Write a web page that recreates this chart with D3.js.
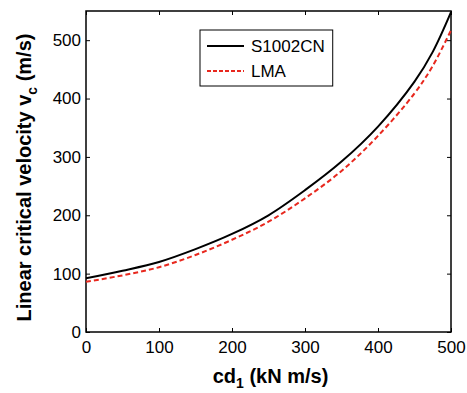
<!DOCTYPE html>
<html>
<head>
<meta charset="utf-8">
<script src="https://cdn.jsdelivr.net/npm/d3@7"></script>
<style>
  body { margin: 0; background: #fff; }
  text { font-family: "Liberation Sans", Arial, sans-serif; }
</style>
</head>
<body>
<div id="chart"></div>
<script>
// data
const cd1 = [0, 50, 100, 150, 200, 250, 300, 350, 400, 450, 475, 500];
const s1002cn = [92, 105, 120, 142, 168, 200, 243, 292, 352, 429, 480, 548];
const lma = [86, 97, 111, 132, 158, 189, 229, 276, 336, 409, 456, 517];
const xTicks = [0, 100, 200, 300, 400, 500];
const yTicks = [0, 100, 200, 300, 400, 500];

const W = 467, H = 393;
const margin = {top: 11, left: 86, right: 16, bottom: 61};
const width = W - margin.left - margin.right;
const height = H - margin.top - margin.bottom;

const svg = d3.select('#chart').append('svg')
  .attr('width', W).attr('height', H);

const g = svg.append('g')
  .attr('transform', 'translate(' + margin.left + ',' + margin.top + ')');

const x = d3.scaleLinear().domain([0, 500]).range([0, width]);
const y = d3.scaleLinear().domain([0, 550]).range([height, 0]);

// axes, ticks pointing inside like matlab
g.append('g')
  .attr('transform', 'translate(0,' + height + ')')
  .call(d3.axisBottom(x).tickValues(xTicks).tickSizeInner(-4).tickSizeOuter(0).tickPadding(9))
  .call(a => a.select('.domain').remove())
  .selectAll('text').attr('font-size', 17).attr('fill', '#000');

g.append('g')
  .call(d3.axisLeft(y).tickValues(yTicks).tickSizeInner(-4).tickSizeOuter(0).tickPadding(5))
  .call(a => a.select('.domain').remove())
  .selectAll('text').attr('font-size', 17).attr('fill', '#000');

g.append('g')
  .call(d3.axisTop(x).tickValues(xTicks).tickSizeInner(-4).tickSizeOuter(0).tickFormat(''))
  .call(a => a.select('.domain').remove());

g.append('g')
  .attr('transform', 'translate(' + width + ',0)')
  .call(d3.axisRight(y).tickValues(yTicks).tickSizeInner(-4).tickSizeOuter(0).tickFormat(''))
  .call(a => a.select('.domain').remove());

g.append('rect')
  .attr('width', width).attr('height', height)
  .attr('fill', 'none').attr('stroke', '#000').attr('stroke-width', 1.5);

const line = d3.line()
  .x((d, i) => x(cd1[i]))
  .y(d => y(d))
  .curve(d3.curveCatmullRom.alpha(0.5));

g.append('path').datum(lma)
  .attr('d', line)
  .attr('fill', 'none')
  .attr('stroke', '#e8281e')
  .attr('stroke-width', 2)
  .attr('stroke-dasharray', '5,3');

g.append('path').datum(s1002cn)
  .attr('d', line)
  .attr('fill', 'none')
  .attr('stroke', '#000')
  .attr('stroke-width', 2);

// legend
const lg = svg.append('g').attr('transform', 'translate(200,30)');
const box = lg.append('rect').attr('height', 56)
  .attr('fill', '#fff').attr('stroke', '#000').attr('stroke-width', 1);
lg.append('line').attr('x1', 7).attr('x2', 44).attr('y1', 16).attr('y2', 16)
  .attr('stroke', '#000').attr('stroke-width', 2);
lg.append('line').attr('x1', 7).attr('x2', 44).attr('y1', 41).attr('y2', 41)
  .attr('stroke', '#e8281e').attr('stroke-width', 2).attr('stroke-dasharray', '4,2');
const t1 = lg.append('text').attr('x', 51).attr('y', 22).attr('font-size', 17).text('S1002CN');
lg.append('text').attr('x', 51).attr('y', 47).attr('font-size', 17).text('LMA');
box.attr('width', 51 + t1.node().getComputedTextLength() + 8);

// axis titles
const xl = svg.append('text')
  .attr('x', margin.left + width / 2 + 2).attr('y', 383)
  .attr('text-anchor', 'middle')
  .attr('font-size', 20).attr('font-weight', 'bold');
xl.append('tspan').text('cd');
xl.append('tspan').attr('font-size', 14).attr('dy', 5).text('1');
xl.append('tspan').attr('dy', -5).text(' (kN m/s)');

const yl = svg.append('text')
  .attr('transform', 'translate(31,' + (margin.top + height / 2 + 6) + ') rotate(-90)')
  .attr('text-anchor', 'middle')
  .attr('font-size', 20).attr('font-weight', 'bold');
yl.append('tspan').text('Linear critical velocity v');
yl.append('tspan').attr('font-size', 14).attr('dy', 6).text('c');
yl.append('tspan').attr('dy', -6).text(' (m/s)');
</script>
</body>
</html>
